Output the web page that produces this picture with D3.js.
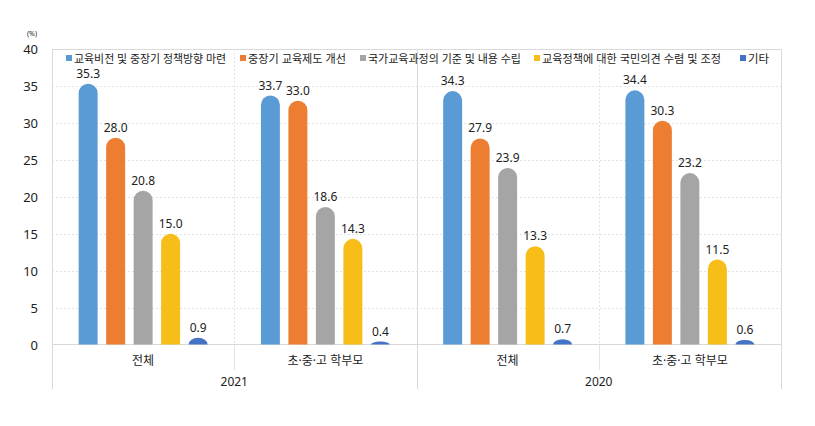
<!DOCTYPE html>
<html><head><meta charset="utf-8">
<script src="https://cdn.jsdelivr.net/npm/d3@7"></script>
<style>
html,body{margin:0;padding:0;background:#fff;}
text{font-family:"Noto Sans","Noto Sans CJK KR",sans-serif;fill:#222;}
</style></head>
<body>
<svg id="chart" width="815" height="426"></svg>
<script>
const categories = ["2021|전체", "2021|초·중·고 학부모", "2020|전체", "2020|초·중·고 학부모"];
const categoryLabels = ["전체", "초·중·고 학부모", "전체", "초·중·고 학부모"];
const years = ["2021", "2020"];
const seriesNames = ["교육비전 및 중장기 정책방향 마련", "중장기 교육제도 개선", "국가교육과정의 기준 및 내용 수립", "교육정책에 대한 국민의견 수렴 및 조정", "기타"];
const seriesColors = ["#5B9BD5", "#ED7D31", "#A5A5A5", "#F7BE1A", "#4472C4"];
const s1 = [35.3, 33.7, 34.3, 34.4];
const s2 = [28.0, 33.0, 27.9, 30.3];
const s3 = [20.8, 18.6, 23.9, 23.2];
const s4 = [15.0, 14.3, 13.3, 11.5];
const s5 = [0.9, 0.4, 0.7, 0.6];
const series = [s1, s2, s3, s4, s5];
const yTicks = [0, 5, 10, 15, 20, 25, 30, 35, 40];

const svg = d3.select("#chart");
const L = 52, R = 781, T = 49, B = 344.5;
const x0 = d3.scaleBand().domain(categories).range([L, R]).padding(0);
const x1 = d3.scaleBand().domain(d3.range(series.length)).range([0, x0.bandwidth()]).paddingInner(0.31).paddingOuter(0.97);
const y = d3.scaleLinear().domain([0, 40]).range([B, T]);

// gridlines
svg.append("g").selectAll("line").data(yTicks.filter(d => d > 0 && d < 40)).join("line")
  .attr("x1", L).attr("x2", R).attr("y1", d => Math.round(y(d)) + 0.5).attr("y2", d => Math.round(y(d)) + 0.5)
  .attr("stroke", "#e4e4e4").attr("stroke-dasharray", "2,2");
svg.append("line").attr("x1", L).attr("x2", R).attr("y1", T + 0.5).attr("y2", T + 0.5).attr("stroke", "#d9d9d9");
[L, R].forEach(xx => svg.append("line").attr("x1", xx + 0.5).attr("x2", xx + 0.5).attr("y1", T).attr("y2", 389).attr("stroke", "#d9d9d9"));
[1, 3].forEach(i => {
  const xx = Math.round(x0(categories[i])) + 0.5;
  svg.append("line").attr("x1", xx).attr("x2", xx).attr("y1", T).attr("y2", B).attr("stroke", "#e4e4e4").attr("stroke-dasharray", "2,2");
  svg.append("line").attr("x1", xx).attr("x2", xx).attr("y1", B).attr("y2", 370).attr("stroke", "#e4e4e4");
});
{
  const xx = Math.round(x0(categories[2])) + 0.5;
  svg.append("line").attr("x1", xx).attr("x2", xx).attr("y1", T).attr("y2", 389).attr("stroke", "#d9d9d9");
}
svg.append("line").attr("x1", L).attr("x2", R).attr("y1", B).attr("y2", B).attr("stroke", "#d9d9d9");

// y axis labels
svg.append("g").selectAll("text").data(yTicks).join("text")
  .attr("x", 38).attr("y", d => y(d) + 5).attr("text-anchor", "end")
  .style("font-size", "13px").text(d => d);
svg.append("text").attr("x", 32).attr("y", 36).attr("text-anchor", "middle").style("font-size", "7px").text("(%)");

// bars
function barPath(x, w, top, bottom) {
  const h = bottom - top;
  const rx = w / 2, ry = Math.min(w / 2, h);
  return `M${x},${bottom}L${x},${top + ry}A${rx},${ry} 0 0 1 ${x + w},${top + ry}L${x + w},${bottom}Z`;
}
series.forEach((vals, si) => {
  const g = svg.append("g");
  g.selectAll("path").data(vals).join("path")
    .attr("d", (d, i) => barPath(x0(categories[i]) + x1(si), x1.bandwidth(), y(d), B))
    .attr("fill", seriesColors[si]);
  g.selectAll("text").data(vals).join("text")
    .attr("x", (d, i) => x0(categories[i]) + x1(si) + x1.bandwidth() / 2)
    .attr("y", d => y(d) - 6).attr("text-anchor", "middle")
    .style("font-size", "12px").text(d => d.toFixed(1));
});

// category labels
svg.append("g").selectAll("text").data(categories).join("text")
  .attr("x", d => x0(d) + x0.bandwidth() / 2).attr("y", 365).attr("text-anchor", "middle")
  .style("font-size", "12px").text((d, i) => categoryLabels[i]);
svg.append("g").selectAll("text").data(years).join("text")
  .attr("x", (d, i) => (x0(categories[i * 2]) + x0(categories[i * 2 + 1]) + x0.bandwidth()) / 2)
  .attr("y", 386).attr("text-anchor", "middle").style("font-size", "12px").text(d => d);

// legend
const legendX = [66, 240, 360, 534, 740];
const legendW = [152, 98, 153, 179, 21];
const lg = svg.append("g");
seriesNames.forEach((n, i) => {
  lg.append("rect").attr("x", legendX[i]).attr("y", 55).attr("width", 6).attr("height", 6).attr("fill", seriesColors[i]);
  lg.append("text").attr("x", legendX[i] + 8).attr("y", 62.5).style("font-size", "11.5px")
    .attr("textLength", legendW[i]).attr("lengthAdjust", "spacingAndGlyphs").text(n);
});
</script>
</body></html>
